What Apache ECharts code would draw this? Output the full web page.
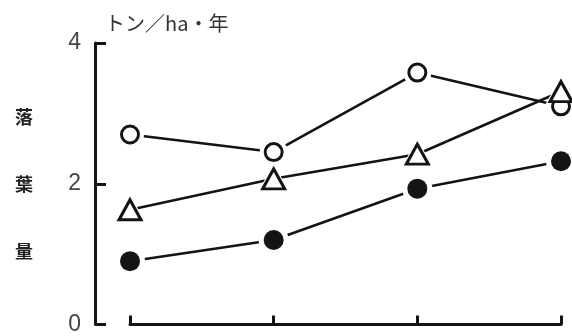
<!DOCTYPE html>
<html><head><meta charset="utf-8">
<script src="https://cdn.jsdelivr.net/npm/echarts@6/dist/echarts.min.js"></script>
<style>html,body{margin:0;padding:0;background:#fff}#c{width:572px;height:336px}</style>
</head><body><div id="c"></div>
<script>
const categories = ['1', '2', '3', '4'];
const openCircle = [2.70, 2.45, 3.58, 3.10];
const openTriangle = [1.63, 2.07, 2.42, 3.31];
const filledCircle = [0.90, 1.20, 1.93, 2.32];
const yTicks = [0, 2, 4];
const unitLabel = 'トン／ha・年';
const yTitle = ['落', '葉', '量'];

const ink = '#141414';
const chart = echarts.init(document.getElementById('c'), null, {renderer: 'canvas'});

function lineSeries(data) {
  return {type: 'line', data: data, showSymbol: false, zlevel: 0, z: 2, silent: true,
    lineStyle: {color: ink, width: 2.6}};
}
function halo(data, symbol, size) {
  return {type: 'scatter', data: data, symbol: symbol, symbolSize: size, zlevel: 1, z: 3, silent: true,
    itemStyle: {color: '#ffffff', borderWidth: 0, opacity: 1}};
}
function mark(data, symbol, size, fill) {
  return {type: 'scatter', data: data, symbol: symbol, symbolSize: size, zlevel: 1, z: 4, silent: true,
    itemStyle: {color: fill ? ink : '#fff', borderColor: ink, borderWidth: fill ? 0 : 3, opacity: 1}};
}

chart.setOption({
  animation: false,
  backgroundColor: '#fff',
  grid: {left: 130, right: 11, top: 43, bottom: 9},
  title: {text: unitLabel, left: 100, top: 8,
    textStyle: {fontFamily: 'Noto Sans CJK JP', fontSize: 20, fontWeight: 'normal', color: '#333'}},
  graphic: [{type: 'text', left: 15, top: 84,
    style: {text: yTitle.join('\n'), lineHeight: 67, fontFamily: 'Noto Sans CJK JP',
      fontSize: 18, fontWeight: 'bold', fill: '#222'}}],
  xAxis: {type: 'category', data: categories, boundaryGap: false,
    axisLine: {lineStyle: {color: ink, width: 3}},
    axisTick: {inside: true, length: 9, alignWithLabel: true, lineStyle: {color: ink, width: 3}},
    axisLabel: {show: false}, splitLine: {show: false}},
  yAxis: {type: 'value', min: yTicks[0], max: yTicks[yTicks.length - 1], interval: 2, offset: 35,
    axisLine: {show: true, lineStyle: {color: ink, width: 3}},
    axisTick: {show: true, inside: true, length: 11, lineStyle: {color: ink, width: 3}},
    axisLabel: {margin: 14, fontSize: 23, fontFamily: 'Liberation Sans', color: '#444'},
    splitLine: {show: false}},
  series: [
    lineSeries(openCircle), lineSeries(openTriangle), lineSeries(filledCircle),
    halo(openCircle, 'circle', 28), halo(openTriangle, 'triangle', [34, 31]), halo(filledCircle, 'circle', 30),
    mark(openCircle, 'circle', 17, false), mark(openTriangle, 'triangle', [22, 20], false), mark(filledCircle, 'circle', 20, true)
  ]
});
</script></body></html>
